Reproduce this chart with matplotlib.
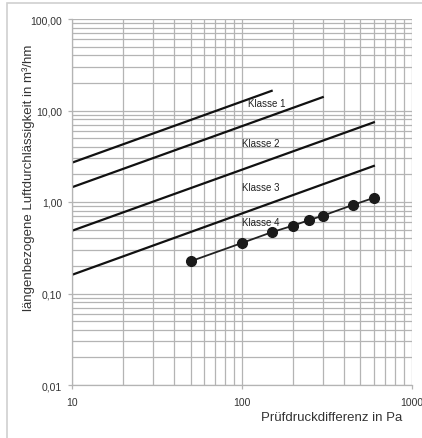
"""Luftdurchlaessigkeit nach Fugenlaenge - Klassen und Messwerte"""
import matplotlib
matplotlib.use("Agg")
import matplotlib.pyplot as plt
from matplotlib.patches import Rectangle
from matplotlib.ticker import FixedLocator, FixedFormatter, NullFormatter

plt.rcParams['font.family'] = ['Liberation Sans', 'DejaVu Sans']

# Klassengrenzen (Endpunkte der Geraden)
klasse_p = [[10, 150], [10, 300], [10, 600], [10, 600]]
klasse_q = [[2.69, 16.4], [1.45, 14.0], [0.485, 7.43], [0.16, 2.48]]
klasse_names = ["Klasse 1", "Klasse 2", "Klasse 3", "Klasse 4"]
label_pos = [(109, 12.1), (100, 4.4), (100, 1.46), (100, 0.60)]

# Messwerte
mess_p = [50, 100, 150, 200, 250, 300, 450, 600]
mess_q = [0.225, 0.356, 0.467, 0.551, 0.635, 0.708, 0.927, 1.11]

y_ticks = [0.01, 0.1, 1, 10, 100]
y_labels = ["0,01", "0,10", "1,00", "10,00", "100,00"]
x_ticks = [10, 100, 1000]
x_labels = ["10", "100", "1000"]

fig = plt.figure(figsize=(4.22, 4.39), dpi=100)
fig.patches.append(Rectangle((7 / 422, -0.1), 1.2, 1 - 4 / 439 + 0.1,
                             transform=fig.transFigure, fill=False,
                             edgecolor="#d0d0d0", linewidth=1.2))
ax = fig.add_axes([72 / 422, 1 - 386 / 439, 339.5 / 422, 366 / 439])
ax.set_xscale("log")
ax.set_yscale("log")
ax.set_xlim(10, 1000)
ax.set_ylim(0.01, 100)

ax.grid(True, which="both", color="#b4b4b4", linewidth=0.9)
ax.set_axisbelow(True)
for s in ax.spines.values():
    s.set_color("#b4b4b4")
    s.set_linewidth(0.9)
ax.spines["right"].set_visible(False)
ax.spines["top"].set_visible(False)

ax.yaxis.set_major_locator(FixedLocator(y_ticks))
ax.yaxis.set_major_formatter(FixedFormatter(y_labels))
ax.yaxis.set_minor_formatter(NullFormatter())
ax.xaxis.set_major_locator(FixedLocator(x_ticks))
ax.xaxis.set_major_formatter(FixedFormatter(x_labels))
ax.xaxis.set_minor_formatter(NullFormatter())
ax.tick_params(which="minor", length=0)
ax.tick_params(which="major", length=3, width=0.9, color="#b4b4b4",
               labelsize=7.5, labelcolor="#333333")
ax.tick_params(axis="x", pad=6)
ax.tick_params(axis="y", pad=4)

for p, q in zip(klasse_p, klasse_q):
    ax.plot(p, q, color="#111111", linewidth=1.6)
for name, (x, y) in zip(klasse_names, label_pos):
    ax.text(x, y, name, fontsize=7, color="#222222", va="center")

ax.plot(mess_p, mess_q, color="#222222", linewidth=1.3, marker="o",
        markersize=7, markerfacecolor="#1a1a1a", markeredgecolor="#1a1a1a")

fig.text(332 / 422, 1 - 418 / 439, "Prüfdruckdifferenz in Pa", fontsize=9.5,
         color="#333333", ha="center", va="center")
fig.text(29 / 422, 1 - 178 / 439, "längenbezogene Luftdurchlässigkeit in m³/hm",
         fontsize=9.5, color="#333333", ha="center", va="center", rotation=90)

fig.savefig("out.png", dpi=100)
